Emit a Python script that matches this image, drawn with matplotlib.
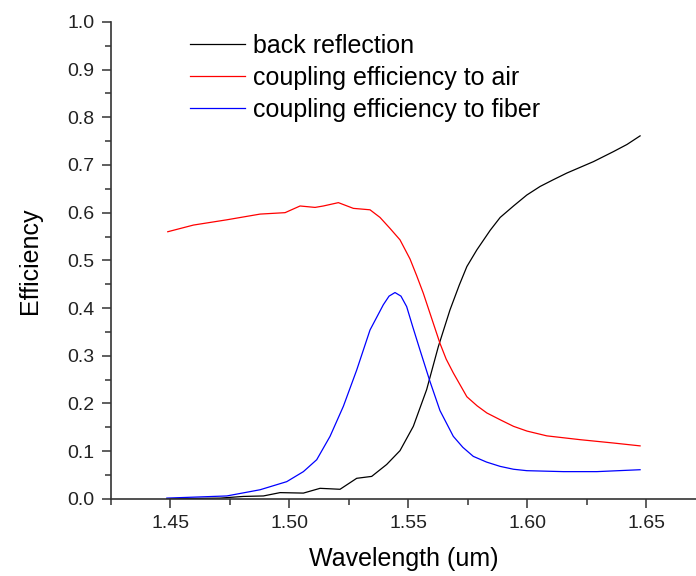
import matplotlib
matplotlib.use("Agg")
import matplotlib.pyplot as plt
from matplotlib.ticker import MultipleLocator

plt.rcParams["font.family"] = ["Liberation Sans", "DejaVu Sans"]

# values
wl_refl = [1.4486, 1.471, 1.4808, 1.4892, 1.4962, 1.506, 1.513, 1.5214, 1.5284, 1.5347,
           1.541, 1.5466, 1.5522, 1.5578, 1.5627, 1.5676, 1.5715, 1.5747, 1.5789, 1.5845,
           1.5887, 1.5943, 1.5999, 1.6055, 1.611, 1.6167, 1.6223, 1.6279, 1.6363, 1.642,
           1.6475]
back_refl = [0.0, 0.0015, 0.005, 0.006, 0.013, 0.012, 0.022, 0.020, 0.043, 0.047,
             0.072, 0.101, 0.152, 0.229, 0.319, 0.396, 0.448, 0.487, 0.522, 0.563,
             0.590, 0.614, 0.637, 0.655, 0.669, 0.683, 0.695, 0.707, 0.728, 0.743,
             0.761]

wl_air = [1.449, 1.4598, 1.4738, 1.4878, 1.4948, 1.4983, 1.5046, 1.5109, 1.5144, 1.5207,
          1.527, 1.534, 1.5382, 1.5424, 1.5466, 1.5508, 1.5536, 1.5564, 1.5606, 1.5634,
          1.566, 1.569, 1.5747, 1.579, 1.5831, 1.589, 1.5943, 1.60, 1.6083, 1.6223,
          1.6363, 1.6475]
coup_air = [0.560, 0.574, 0.585, 0.597, 0.599, 0.600, 0.614, 0.611, 0.614, 0.621,
            0.609, 0.606, 0.590, 0.567, 0.543, 0.503, 0.468, 0.431, 0.368, 0.326,
            0.293, 0.264, 0.214, 0.195, 0.180, 0.165, 0.152, 0.142, 0.132, 0.124,
            0.117, 0.111]

wl_fib = [1.4486, 1.4738, 1.4878, 1.499, 1.506, 1.5116, 1.5172, 1.5228, 1.5284, 1.534,
          1.5396, 1.542, 1.5445, 1.547, 1.5494, 1.552, 1.555, 1.5592, 1.5634, 1.569,
          1.573, 1.5774, 1.583, 1.5887, 1.5943, 1.5999, 1.6153, 1.6293, 1.6475]
coup_fib = [0.0015, 0.006, 0.019, 0.036, 0.057, 0.082, 0.131, 0.194, 0.270, 0.354,
            0.407, 0.425, 0.4325, 0.425, 0.403, 0.360, 0.312, 0.246, 0.185, 0.131,
            0.108, 0.089, 0.077, 0.068, 0.062, 0.059, 0.057, 0.057, 0.061]

fig = plt.figure(figsize=(6.96, 5.76), dpi=100)
ax = fig.add_axes([0.159, 0.134, 0.841, 0.828])

ax.plot(wl_refl, back_refl, color="black", lw=0.9, label="back reflection")
ax.plot(wl_air, coup_air, color="red", lw=0.9, label="coupling efficiency to air")
ax.plot(wl_fib, coup_fib, color="blue", lw=0.9, label="coupling efficiency to fiber")

ax.set_xlim(1.425, 1.671)
ax.set_ylim(0.0, 1.0)
ax.xaxis.set_major_locator(MultipleLocator(0.05))
ax.xaxis.set_minor_locator(MultipleLocator(0.025))
ax.yaxis.set_major_locator(MultipleLocator(0.1))
ax.yaxis.set_minor_locator(MultipleLocator(0.05))
ax.xaxis.set_major_formatter(plt.FormatStrFormatter("%.2f"))
ax.yaxis.set_major_formatter(plt.FormatStrFormatter("%.1f"))

for side in ("top", "right"):
    ax.spines[side].set_visible(False)
for side in ("left", "bottom"):
    ax.spines[side].set_color("#333333")
    ax.spines[side].set_linewidth(1.2)

ax.tick_params(which="major", direction="out", length=6.5, width=1.1, labelsize=14,
               colors="#333333", labelcolor="#222222", pad=5)
ax.tick_params(which="minor", direction="out", length=4, width=1.1, colors="#333333")

ax.set_xlabel("Wavelength (um)", fontsize=18, labelpad=11)
ax.set_ylabel("Efficiency", fontsize=18, labelpad=18)

ax.legend(loc="upper left", bbox_to_anchor=(0.105, 1.012), frameon=False, fontsize=18,
          handlelength=2.2, handletextpad=0.35, labelspacing=0.33, borderaxespad=0.3)

fig.savefig("out.png", dpi=100)
